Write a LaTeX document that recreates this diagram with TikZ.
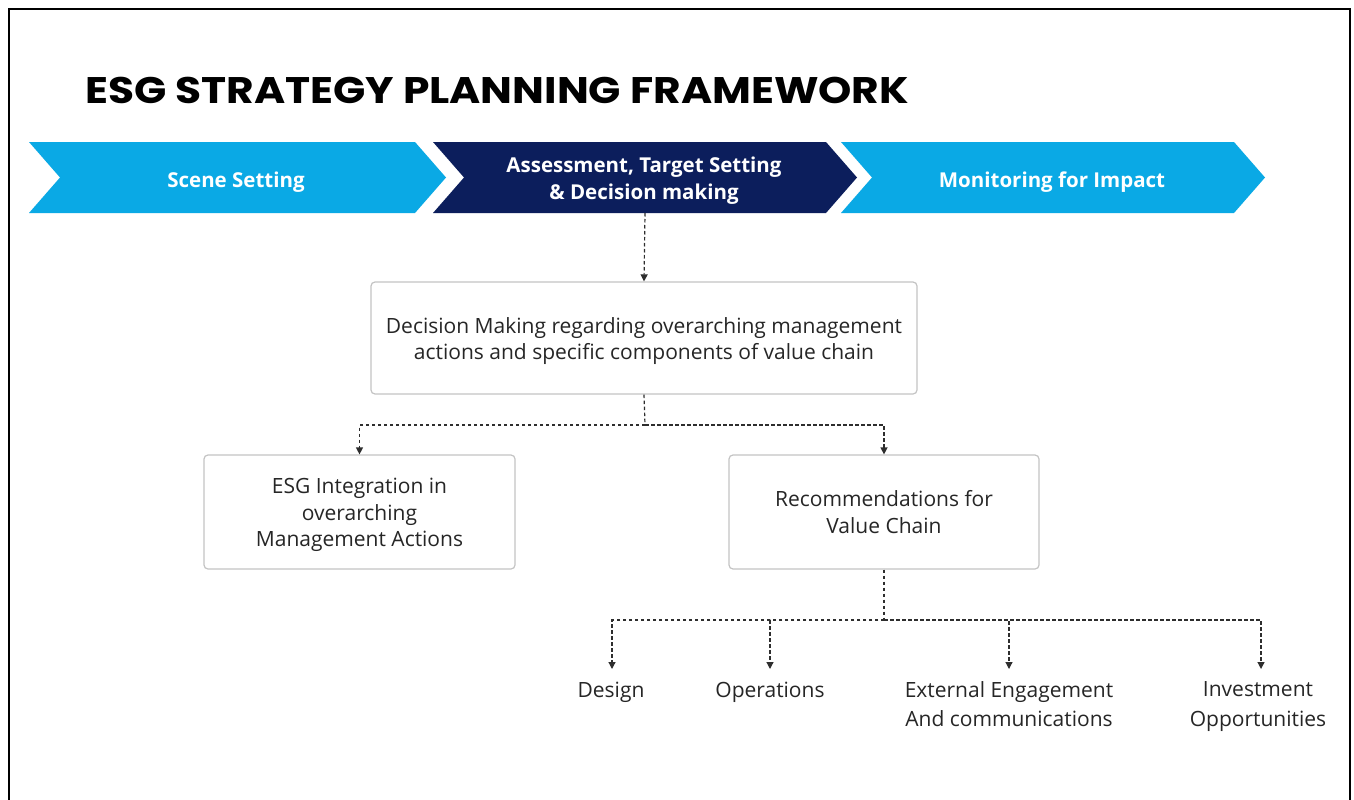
\documentclass[tikz,border=0pt]{standalone}
\usepackage{fontspec}
\setmainfont{Open Sans}
\newfontfamily\headfont{Poppins}
\usetikzlibrary{arrows.meta}

\definecolor{skyblue}{HTML}{0AA9E5}
\definecolor{navyblue}{HTML}{0C1E5C}
\definecolor{boxline}{HTML}{C4C4C4}
\definecolor{linkgray}{HTML}{2E2E2E}

% centred lines, lowered a little inside their box (box size unchanged)
\newcommand{\lowlines}[2]{\raisebox{-#1}[\height][\depth]{\begin{tabular}{@{}c@{}}#2\end{tabular}}}

\tikzset{
  chevtext/.style={text=white, font=\fontsize{20.5}{27}\selectfont\bfseries, align=center},
  infobox/.style={draw=boxline, line width=1.2pt, rounded corners=4pt, fill=white,
    font=\fontsize{21}{26.5}\selectfont, text=black!85, align=center},
  leaf/.style={font=\fontsize{21}{29}\selectfont, text=black!85, align=center,
    inner sep=2pt, outer ysep=11pt, anchor=north},
  link/.style={draw=linkgray, line width=1.2pt, dash pattern=on 3.5pt off 2.5pt},
  linkarrow/.style={link, -{Triangle[length=7pt,width=7pt]}},
}

\begin{document}
\begin{tikzpicture}[x=1pt,y=-1pt]
  \useasboundingbox (0,0) rectangle (1354,800);
  \fill[white] (0,0) rectangle (1354,800);
  % frame
  \draw[line width=2.5pt] (9,800) -- (9,9) -- (1350,9) -- (1350,800);

  % heading
  \node[anchor=base west, inner sep=0pt, font=\headfont\fontsize{37}{40}\selectfont\bfseries]
    (title) at (85,103) {\scalebox{1.145}[1]{ESG STRATEGY PLANNING FRAMEWORK}};

  % process chevrons
  \fill[skyblue]  (29,142) -- (415,142) -- (446,177.5) -- (415,213) -- (29,213) -- (60,177.5) -- cycle;
  \fill[navyblue] (433,142) -- (826,142) -- (857,177.5) -- (826,213) -- (433,213) -- (464,177.5) -- cycle;
  \fill[skyblue]  (841,142) -- (1234,142) -- (1265,177.5) -- (1234,213) -- (841,213) -- (872,177.5) -- cycle;
  \node[chevtext] (scene) at (236,182) {Scene Setting};
  \node[chevtext] (assess) at (644,180.5) {Assessment, Target Setting\\ \& Decision making};
  \node[chevtext] (monitor) at (1052,182) {Monitoring for Impact};
  \coordinate (assessfoot) at (645,213);

  % decision boxes
  \node[infobox, minimum width=546pt, minimum height=112pt] (decision) at (644,338)
    {\lowlines{3pt}{Decision Making regarding overarching management\\ actions and specific components of value chain}};
  \node[infobox, minimum width=311pt, minimum height=114pt] (esg) at (359.5,512)
    {\lowlines{3pt}{ESG Integration in\\ overarching\\ Management Actions}};
  \node[infobox, minimum width=310pt, minimum height=114pt] (valuechain) at (884,512)
    {Recommendations for\\ Value Chain};

  % value chain components
  \node[leaf] (design) at (611,669) {Design};
  \node[leaf] (operations) at (770,669) {Operations};
  \node[leaf] (external) at (1009,669) {External Engagement\\ And communications};
  \node[leaf] (invest) at (1258,669) {Investment\\ Opportunities};

  % connectors
  \coordinate (hubA) at (645,425);
  \coordinate (hubB) at (884,620);
  \draw[linkarrow] (assessfoot) -- (decision.north);
  \draw[link] (decision.south) -- (hubA);
  \draw[linkarrow] (hubA) -| (esg.north);
  \draw[linkarrow] (hubA) -| (valuechain.north);
  \draw[link, line width=2pt] (valuechain.south) -- (hubB);
  \draw[linkarrow] (hubB) -| ([xshift=1pt]design.north);
  \draw[linkarrow] (hubB) -| (operations.north);
  \draw[linkarrow] (hubB) -| (external.north);
  \draw[linkarrow] (hubB) -| ([xshift=3pt]invest.north);
\end{tikzpicture}
\end{document}
